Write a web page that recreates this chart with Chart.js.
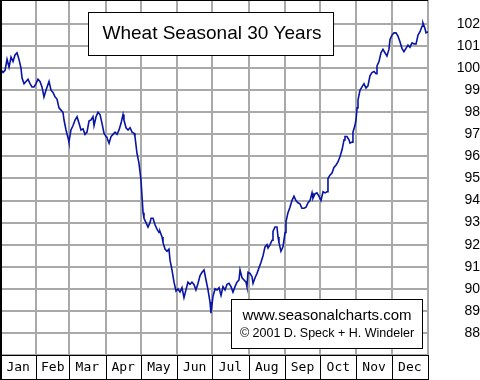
<!DOCTYPE html>
<html>
<head>
<meta charset="utf-8">
<script src="https://cdn.jsdelivr.net/npm/chart.js@4"></script>
<style>
  html, body { margin: 0; padding: 0; background: #fff; }
  #c { display: block; }
</style>
</head>
<body>
<canvas id="c" width="480" height="380"></canvas>
<script>
// ---- Data (day of year, seasonal index) ----
const months = ["Jan","Feb","Mar","Apr","May","Jun","Jul","Aug","Sep","Oct","Nov","Dec"];
const monthStarts = [0,31,59,90,120,151,181,212,243,273,304,334,365];
const yTicks = [87,88,89,90,91,92,93,94,95,96,97,98,99,100,101,102];

const days = [
  0,2.6,4.3,6.0,7.7,9.4,11.1,12.8,14.5,16.2,
  17.9,18.8,20.5,22.2,23.9,25.6,27.3,29.0,30.7,32.4,
  34.1,35.8,37.5,39.2,41.8,43.5,45.2,46.9,48.6,50.3,
  52.0,53.7,54.6,56.3,58.0,58.8,60.5,62.3,64.0,65.7,
  67.4,69.1,70.8,72.5,74.2,75.9,77.6,79.3,80.2,81.9,
  83.6,85.3,87.0,88.7,90.4,91.2,93.0,94.7,96.4,98.1,
  99.8,101.5,103.2,104.9,105.7,107.5,109.2,110.9,112.6,114.3,
  115.1,116.8,118.5,120.2,121.1,122.0,122.8,124.5,126.2,127.9,
  128.8,130.5,132.2,133.9,135.6,136.4,138.2,139.0,140.7,142.4,
  144.1,145.0,146.7,148.4,150.1,151.8,153.5,155.2,156.9,158.6,
  160.3,162.0,163.7,165.4,167.1,168.9,170.6,172.3,174.0,175.7,
  177.4,179.1,179.9,181.6,183.4,185.1,186.8,188.5,190.2,191.9,
  193.6,195.3,197.0,198.7,200.4,202.1,203.8,204.7,206.4,208.1,
  209.8,210.6,211.5,213.2,214.9,215.8,217.5,219.2,220.9,222.6,
  224.3,226.0,227.7,228.6,230.3,232.0,232.8,234.5,236.2,237.1,
  237.9,239.6,241.3,243.1,243.9,245.6,247.3,249.0,250.7,252.4,
  254.1,255.8,257.5,259.3,261.0,262.7,264.4,266.1,266.9,268.6,
  270.3,272.0,273.7,275.5,277.2,278.9,279.7,281.4,283.1,284.8,
  286.5,288.2,290.0,291.7,293.4,294.2,295.9,297.6,298.5,300.2,
  301.0,302.7,303.6,304.5,305.3,307.0,308.7,310.4,312.1,313.8,
  315.5,317.2,319.0,320.7,321.5,323.2,324.9,326.6,328.3,330.0,
  331.7,332.6,334.3,336.0,337.7,339.4,341.1,342.8,344.5,346.2,
  347.9,349.6,351.4,353.1,354.8,356.5,358.2,359.9,360.7,362.4,
  363.3,365.0
];
const values = [
  100.0,99.8,99.9,100.4,100.05,100.5,100.3,100.6,100.7,100.4,
  100.0,99.55,99.3,99.4,99.5,99.3,99.15,99.15,99.3,99.5,
  99.4,99.15,98.7,99.0,99.4,99.0,98.9,98.7,98.6,98.2,
  98.1,98.0,97.65,97.2,96.85,96.65,97.2,97.4,97.65,97.8,
  97.5,97.2,97.25,97.0,97.1,97.6,97.65,97.8,97.4,97.8,
  98.0,97.9,97.5,97.05,96.9,96.85,96.6,96.9,97.0,97.1,
  97.0,97.2,97.5,97.9,97.65,97.3,97.2,97.3,97.1,97.05,
  96.9,96.15,95.7,94.95,94.2,93.45,93.2,93.0,92.8,93.0,
  93.2,93.2,92.9,92.7,92.55,92.6,92.35,92.1,91.8,91.7,
  91.8,91.3,90.85,90.3,89.9,90.0,89.85,90.05,89.6,89.95,
  90.3,90.2,90.3,90.2,89.95,90.25,90.6,90.75,90.85,90.4,
  89.95,89.4,88.9,89.65,90.0,89.95,90.05,89.7,90.1,89.95,
  90.2,90.25,90.1,89.85,90.1,90.3,90.4,90.85,90.5,90.4,
  90.3,90.1,90.75,90.7,90.55,90.25,90.5,90.7,90.95,91.2,
  91.5,91.9,92.0,91.85,92.0,92.2,92.6,92.8,92.8,92.35,
  92.1,91.7,91.9,92.55,93.05,93.45,93.7,94.0,94.2,94.0,
  93.9,93.85,93.65,93.65,93.7,93.9,94.0,94.35,94.1,94.3,
  94.35,94.2,94.0,94.4,94.35,94.4,95.0,95.15,95.25,95.5,
  95.6,95.75,96.0,96.3,96.75,96.9,96.9,96.75,96.6,96.65,
  97.1,97.4,97.65,98.2,98.55,99.0,99.15,99.3,99.1,99.2,
  99.65,99.8,99.85,99.75,100.1,100.3,100.7,100.85,100.7,100.55,
  100.85,101.3,101.5,101.6,101.6,101.45,101.2,100.9,100.75,100.9,
  101.05,100.95,101.15,101.1,101.1,101.5,101.65,101.9,102.05,101.8,
  101.6,101.65
];

const titleText = "Wheat Seasonal 30 Years";
const creditLines = ["www.seasonalcharts.com", "\u00A9 2001 D. Speck + H. Windeler"];

// ---- Build ----
const monthMids = months.map((m, i) => (monthStarts[i] + monthStarts[i + 1]) / 2);
const points = days.map((d, i) => ({ x: d, y: values[i] }));
const GRID = '#a9a9a9';

const decorPlugin = {
  id: 'decor',
  afterDraw(chart) {
    const ctx = chart.ctx;
    const xs = chart.scales.x;
    const area = chart.chartArea;
    ctx.save();
    // month label box
    ctx.strokeStyle = '#000';
    ctx.lineWidth = 1;
    ctx.beginPath();
    monthStarts.forEach(d => {
      const px = Math.round(xs.getPixelForValue(d)) + 0.5;
      ctx.moveTo(px, area.bottom);
      ctx.lineTo(px, 380);
    });
    ctx.moveTo(0, area.bottom + 0.5);
    ctx.lineTo(Math.round(xs.getPixelForValue(365)) + 1, area.bottom + 0.5);
    ctx.moveTo(0, 379.5);
    ctx.lineTo(Math.round(xs.getPixelForValue(365)) + 1, 379.5);
    ctx.stroke();
    // outer left / top border
    ctx.fillStyle = '#000';
    ctx.fillRect(0, 0, 2, 380);
    ctx.fillRect(0, 0, Math.round(xs.getPixelForValue(365)), 1);

    // title box
    ctx.fillStyle = '#fff';
    ctx.fillRect(88, 12, 246, 44);
    ctx.strokeStyle = '#000';
    ctx.strokeRect(88.5, 12.5, 245, 43);
    ctx.fillStyle = '#000';
    ctx.font = '19px "Liberation Sans", Arial, sans-serif';
    ctx.textAlign = 'center';
    ctx.textBaseline = 'middle';
    ctx.fillText(titleText, 212, 34);

    // credit box
    ctx.fillStyle = '#fff';
    ctx.fillRect(231, 299, 192, 50);
    ctx.strokeStyle = '#000';
    ctx.strokeRect(231.5, 299.5, 191, 49);
    ctx.fillStyle = '#000';
    ctx.font = '15px "Liberation Sans", Arial, sans-serif';
    ctx.fillText(creditLines[0], 327, 316);
    ctx.font = '12.5px "Liberation Sans", Arial, sans-serif';
    ctx.fillText(creditLines[1], 327, 334);
    ctx.restore();
  }
};

new Chart(document.getElementById('c'), {
  type: 'line',
  data: {
    datasets: [{
      data: points,
      borderColor: '#0814a4',
      borderWidth: 1.6,
      pointRadius: 0,
      tension: 0,
      fill: false
    }]
  },
  options: {
    responsive: false,
    animation: false,
    layout: { padding: 0 },
    plugins: { legend: { display: false }, tooltip: { enabled: false } },
    scales: {
      x: {
        type: 'linear',
        min: 0,
        max: 365,
        afterBuildTicks(scale) {
          const t = [];
          monthStarts.forEach(v => t.push({ value: v }));
          monthMids.forEach(v => t.push({ value: v }));
          t.sort((a, b) => a.value - b.value);
          scale.ticks = t;
        },
        afterFit(scale) {
          scale.height = 25;
          scale.paddingLeft = 0; scale.paddingRight = 0;
        },
        grid: {
          drawTicks: false,
          lineWidth: 2,
          color: (c) => (c.tick && monthStarts.includes(c.tick.value)) ? GRID : 'rgba(0,0,0,0)'
        },
        border: { color: '#000', width: 1 },
        ticks: {
          autoSkip: false,
          maxRotation: 0,
          padding: 5,
          color: '#000',
          font: { family: '"DejaVu Sans Mono", monospace', size: 13 },
          callback: (v) => {
            const i = monthMids.indexOf(v);
            return i >= 0 ? months[i] : '';
          }
        }
      },
      y: {
        position: 'right',
        min: 87,
        max: 103.09,
        afterBuildTicks(scale) {
          scale.ticks = yTicks.map(v => ({ value: v }));
        },
        afterFit(scale) {
          scale.width = 52;
          scale.paddingTop = 0; scale.paddingBottom = 0;
        },
        grid: { drawTicks: false, color: GRID, lineWidth: 2 },
        border: { color: GRID, width: 2 },
        ticks: {
          crossAlign: 'far',
          padding: 12,
          color: '#000',
          font: { family: '"Liberation Sans", Arial, sans-serif', size: 14 },
          callback: (v) => v === 87 ? '' : String(v)
        }
      }
    }
  },
  plugins: [decorPlugin]
});
</script>
</body>
</html>
